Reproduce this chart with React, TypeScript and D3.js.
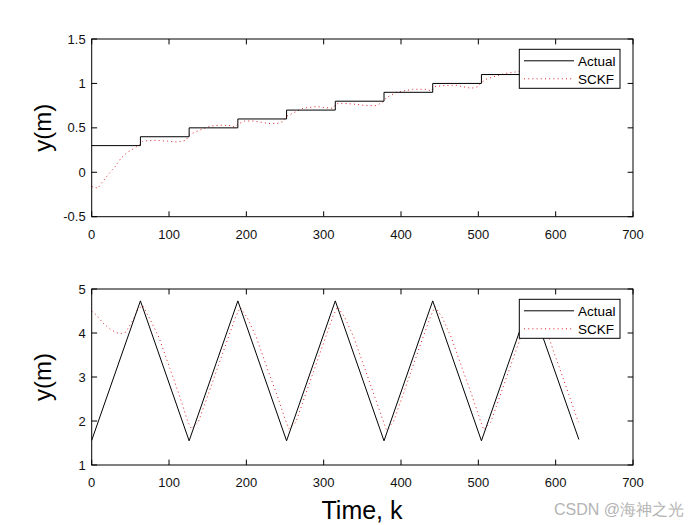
import React from "react";
import * as d3 from "d3";

// ---------- data ----------
const X_TICKS = [0, 100, 200, 300, 400, 500, 600, 700];
const TOP_Y_TICKS = [-0.5, 0, 0.5, 1, 1.5];
const TOP_Y_LABELS = ["-0.5", "0", "0.5", "1", "1.5"];
const BOT_Y_TICKS = [1, 2, 3, 4, 5];
const BOT_Y_LABELS = ["1", "2", "3", "4", "5"];
const SERIES_NAMES = ["Actual", "SCKF"];

// top: actual step signal (value held from k until next k)
const TOP_ACTUAL_K = [0, 63, 126, 189, 252, 315, 378, 441, 504, 567, 630];
const TOP_ACTUAL_Y = [0.3, 0.4, 0.5, 0.6, 0.7, 0.8, 0.9, 1.0, 1.1, 1.2, 1.2];

// top: SCKF estimate
const TOP_SCKF_K = [0, 8, 12, 21, 30, 38, 47, 55, 62, 66, 81, 98, 111, 122, 126, 133, 144, 154, 167, 180, 185, 191, 198, 210, 228, 240, 247, 252, 260, 273, 291, 303, 312, 316, 325, 342, 355, 368, 377, 381, 394, 415, 433, 439, 443, 454, 471, 480, 491, 499, 504, 510, 523, 536, 549, 560, 570, 585, 600, 615, 630];
const TOP_SCKF_Y = [-0.16, -0.18, -0.13, -0.03, 0.06, 0.16, 0.23, 0.27, 0.31, 0.35, 0.36, 0.35, 0.34, 0.36, 0.42, 0.45, 0.49, 0.52, 0.53, 0.525, 0.51, 0.55, 0.577, 0.577, 0.55, 0.55, 0.57, 0.63, 0.665, 0.72, 0.74, 0.727, 0.72, 0.77, 0.776, 0.765, 0.75, 0.75, 0.795, 0.84, 0.9, 0.934, 0.934, 0.915, 0.963, 0.975, 0.98, 0.963, 0.945, 0.963, 1.01, 1.047, 1.084, 1.114, 1.13, 1.14, 1.18, 1.2, 1.21, 1.2, 1.2];

// bottom: actual triangle signal
const BOT_ACTUAL_K = [0, 63, 126, 189, 252, 315, 378, 441, 504, 567, 630];
const BOT_ACTUAL_Y = [1.56, 4.73, 1.55, 4.73, 1.55, 4.73, 1.55, 4.73, 1.55, 4.73, 1.58];

// bottom: SCKF estimate
const BOT_SCKF_K = [0, 6, 15, 25, 36, 44, 53, 60, 66, 75, 87, 101, 113, 124, 129, 138, 153, 174, 186, 192, 201, 213, 227, 239, 250, 255, 264, 279, 300, 312, 318, 327, 339, 353, 365, 376, 381, 390, 405, 426, 438, 444, 453, 465, 479, 491, 502, 507, 516, 531, 552, 564, 570, 579, 591, 605, 617, 628, 630];
const BOT_SCKF_Y = [4.5, 4.41, 4.22, 4.07, 3.98, 4.02, 4.28, 4.55, 4.62, 4.33, 3.9, 3.2, 2.6, 2.0, 1.82, 1.98, 2.72, 3.77, 4.36, 4.58, 4.35, 3.9, 3.2, 2.62, 2.05, 1.82, 1.97, 2.73, 3.78, 4.38, 4.6, 4.36, 3.9, 3.2, 2.6, 2.05, 1.8, 1.97, 2.72, 3.78, 4.37, 4.6, 4.36, 3.9, 3.2, 2.62, 2.04, 1.8, 1.97, 2.72, 3.77, 4.37, 4.6, 4.35, 3.9, 3.2, 2.6, 2.04, 1.97];

// ---------- layout ----------
const W = 700;
const H = 525;
const LEFT = 91.7;
const RIGHT = 633;
const FONT = "'Liberation Sans', Arial, Helvetica, sans-serif";
const TICK = 5.4;
const RED = "#e02020";
const DASH = "1 3.2";

type PanelProps = {
  top: number;
  bottom: number;
  yDomain: [number, number];
  yTicks: number[];
  yLabels: string[];
  actualK: number[];
  actualY: number[];
  sckfK: number[];
  sckfY: number[];
  step: boolean;
};

function Panel(p: PanelProps) {
  const x = d3.scaleLinear().domain([0, 700]).range([LEFT, RIGHT]);
  const y = d3.scaleLinear().domain(p.yDomain).range([p.bottom, p.top]);
  const actualPts: [number, number][] = p.actualK.map((k, i) => [k, p.actualY[i]]);
  const sckfPts: [number, number][] = p.sckfK.map((k, i) => [k, p.sckfY[i]]);
  const line = d3
    .line<[number, number]>()
    .x((d) => x(d[0]))
    .y((d) => y(d[1]));
  const actualLine = d3
    .line<[number, number]>()
    .x((d) => x(d[0]))
    .y((d) => y(d[1]))
    .curve(p.step ? d3.curveStepAfter : d3.curveLinear);

  const lgX = 519.3;
  const lgY = p.top + 10.3;
  const lgW = 100.7;
  const lgH = 39;

  return (
    <g>
      <rect x={LEFT} y={p.top} width={RIGHT - LEFT} height={p.bottom - p.top} fill="#fff" />
      <path d={line(sckfPts) || ""} fill="none" stroke={RED} strokeWidth={1} strokeDasharray={DASH} />
      <path d={actualLine(actualPts) || ""} fill="none" stroke="#000" strokeWidth={1} />
      {/* box */}
      <rect x={LEFT} y={p.top} width={RIGHT - LEFT} height={p.bottom - p.top} fill="none" stroke="#000" strokeWidth={1} />
      {/* x ticks */}
      {X_TICKS.map((t) => (
        <g key={"xt" + t}>
          <line x1={x(t)} x2={x(t)} y1={p.bottom} y2={p.bottom - TICK} stroke="#000" />
          <line x1={x(t)} x2={x(t)} y1={p.top} y2={p.top + TICK} stroke="#000" />
          <text x={x(t)} y={p.bottom + 22} textAnchor="middle" fontSize={13} fontFamily={FONT} fill="#111">
            {t}
          </text>
        </g>
      ))}
      {p.yTicks.map((t, i) => (
        <g key={"yt" + t}>
          <line x1={LEFT} x2={LEFT + TICK} y1={y(t)} y2={y(t)} stroke="#000" />
          <line x1={RIGHT} x2={RIGHT - TICK} y1={y(t)} y2={y(t)} stroke="#000" />
          <text x={LEFT - 6} y={y(t) + 4.6} textAnchor="end" fontSize={13} fontFamily={FONT} fill="#111">
            {p.yLabels[i]}
          </text>
        </g>
      ))}
      <text
        transform={`translate(${51},${(p.top + p.bottom) / 2}) rotate(-90)`}
        textAnchor="middle"
        fontSize={24}
        fontFamily={FONT}
        fill="#000"
      >
        y(m)
      </text>
      {/* legend */}
      <rect x={lgX} y={lgY} width={lgW} height={lgH} fill="#fff" stroke="#000" strokeWidth={1} />
      <line x1={524} x2={574} y1={lgY + 11.5} y2={lgY + 11.5} stroke="#000" strokeWidth={1} />
      <text x={578} y={lgY + 16.3} fontSize={13.5} fontFamily={FONT} fill="#000">
        {SERIES_NAMES[0]}
      </text>
      <line x1={524} x2={574} y1={lgY + 29.5} y2={lgY + 29.5} stroke={RED} strokeWidth={1} strokeDasharray={DASH} />
      <text x={578} y={lgY + 34.3} fontSize={13.5} fontFamily={FONT} fill="#000">
        {SERIES_NAMES[1]}
      </text>
    </g>
  );
}

export default function App() {
  return (
    <svg
      width={W}
      height={H}
      style={{ position: "absolute", left: 0, top: 0, background: "#fff" }}
    >
      <rect x={0} y={0} width={W} height={H} fill="#fff" />
      <Panel
        top={39}
        bottom={216.7}
        yDomain={[-0.5, 1.5]}
        yTicks={TOP_Y_TICKS}
        yLabels={TOP_Y_LABELS}
        actualK={TOP_ACTUAL_K}
        actualY={TOP_ACTUAL_Y}
        sckfK={TOP_SCKF_K}
        sckfY={TOP_SCKF_Y}
        step={true}
      />
      <Panel
        top={289}
        bottom={465}
        yDomain={[1, 5]}
        yTicks={BOT_Y_TICKS}
        yLabels={BOT_Y_LABELS}
        actualK={BOT_ACTUAL_K}
        actualY={BOT_ACTUAL_Y}
        sckfK={BOT_SCKF_K}
        sckfY={BOT_SCKF_Y}
        step={false}
      />
      <text x={362} y={519} textAnchor="middle" fontSize={25} fontFamily={FONT} fill="#000">
        Time, k
      </text>
      <text x={684} y={515} textAnchor="end" fontSize={16} fontFamily={FONT} fill="#b4b4b4">
        CSDN @海神之光
      </text>
    </svg>
  );
}
